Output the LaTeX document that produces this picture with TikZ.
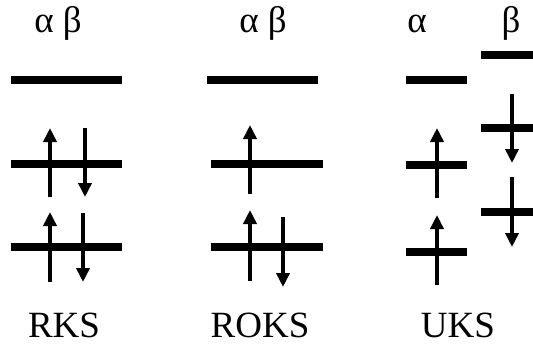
\documentclass[tikz,border=0pt]{standalone}
\usepackage{fontspec}
\setmainfont{Liberation Serif}
\usetikzlibrary{arrows.meta}
\begin{document}
\begin{tikzpicture}[x=1pt,y=-1pt,
  level/.style={line width=8pt},
  spin/.style={line width=4.8pt,-{Triangle[length=14pt,width=13pt]}},
  lbl/.style={anchor=base,inner sep=0pt,font=\fontsize{37}{44}\selectfont}]
\useasboundingbox (0,0) rectangle (533,345);

% RKS
\draw[level] (11,80) -- (122,80);
\draw[level] (11,164) -- (122,164);
\draw[level] (11,247) -- (122,247);
\draw[spin] (50,197) -- (50,128);
\draw[spin] (85,128) -- (85,197);
\draw[spin] (50,282) -- (50,212);
\draw[spin] (83,213) -- (83,282);

% ROKS
\draw[level] (207,80) -- (318,80);
\draw[level] (211,164) -- (323,164);
\draw[level] (211,247) -- (323,247);
\draw[spin] (250,194) -- (250,125);
\draw[spin] (250,281) -- (250,210);
\draw[spin] (283,217) -- (283,287);

% UKS
\draw[level] (406,80) -- (467,80);
\draw[level] (406,165) -- (467,165);
\draw[level] (406,252) -- (467,252);
\draw[spin] (437,198) -- (437,128);
\draw[spin] (437,285) -- (437,215);
\draw[level] (481,55) -- (533,55);
\draw[level] (481,128) -- (533,128);
\draw[level] (481,212) -- (533,212);
\draw[spin] (512,94) -- (512,163);
\draw[spin] (512,177) -- (512,247);

\node[lbl] (ab1) at (58,33) {α β};
\node[lbl] (ab2) at (263,33) {α β};
\node[lbl] (a3) at (417,33) {α};
\node[lbl] (b3) at (511,33) {β};

\node[lbl] (rks) at (64,337) {RKS};
\node[lbl] (roks) at (260,337) {ROKS};
\node[lbl] (uks) at (458,337) {UKS};
\end{tikzpicture}
\end{document}
